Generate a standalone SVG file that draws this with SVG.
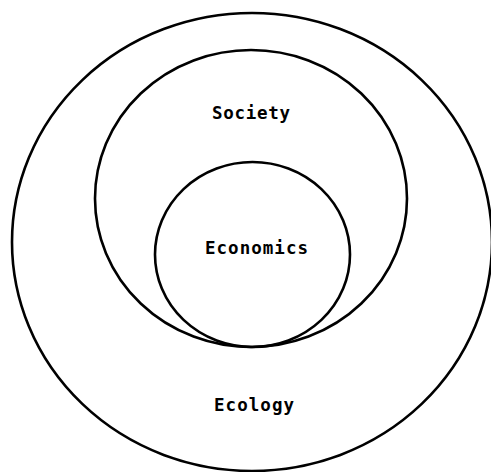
<svg xmlns="http://www.w3.org/2000/svg" width="491" height="472" viewBox="0 0 491 472">
  <style>
    .ring { fill: none; stroke: #000; stroke-width: 2.6; }
    .label { font-family: "DejaVu Sans Mono", "Liberation Mono", monospace; font-weight: bold; font-size: 17.5px; fill: #000; }
  </style>
  <rect width="491" height="472" fill="#fff"/>
  <g id="ecology">
    <ellipse class="ring" cx="252" cy="242" rx="240" ry="229"/>
    <text class="label" x="214" y="411" textLength="80" lengthAdjust="spacing">Ecology</text>
  </g>
  <g id="society">
    <ellipse class="ring" cx="251" cy="198.5" rx="156" ry="148.5"/>
    <text class="label" x="212" y="119" textLength="78" lengthAdjust="spacing">Society</text>
  </g>
  <g id="economics">
    <ellipse class="ring" cx="252.5" cy="254.5" rx="97.5" ry="92.5"/>
    <text class="label" x="205" y="254" textLength="103" lengthAdjust="spacing">Economics</text>
  </g>
  <g id="connectors"></g>
</svg>
